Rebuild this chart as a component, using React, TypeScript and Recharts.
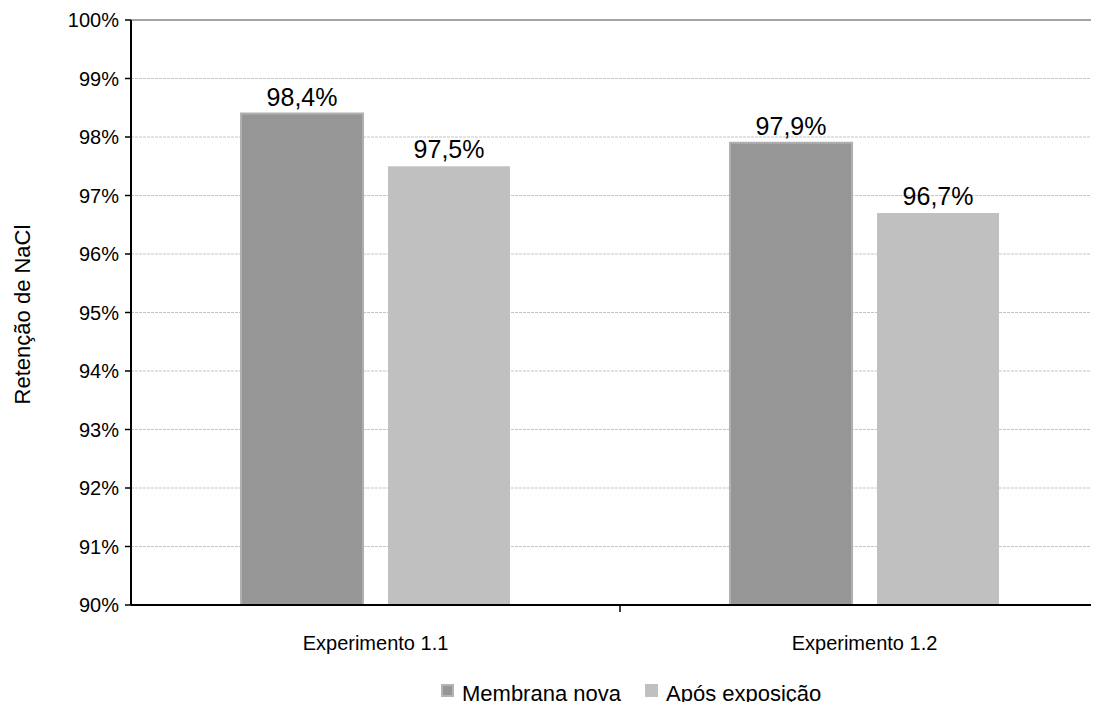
import React from 'react';
import { BarChart, Bar, XAxis, YAxis, CartesianGrid, Legend, LabelList, ReferenceLine } from 'recharts';

const categories = ['Experimento 1.1', 'Experimento 1.2'];
const membranaNova = [98.4, 97.9];
const aposExposicao = [97.5, 96.7];
const yTicks = [90, 91, 92, 93, 94, 95, 96, 97, 98, 99, 100];
const seriesNames = ['Membrana nova', 'Após exposição'];
const yTitle = 'Retenção de NaCl';

const data = categories.map((c, i) => ({ name: c, nova: membranaNova[i], apos: aposExposicao[i] }));

const FONT = '"Liberation Sans", Arial, sans-serif';
const fmt = (v: number) => v.toFixed(1).replace('.', ',') + '%';

const XTick = (props: any) => {
  const { x, y, payload } = props;
  const off = payload && typeof payload.offset === 'number' ? payload.offset : 0;
  return (
    <g>
      {off > 0 && payload.index < categories.length - 1 ? (
        <line x1={x + off} x2={x + off} y1={y} y2={y + 7} stroke="#000" strokeWidth={1.5} />
      ) : null}
      <text x={x} y={y + 45} textAnchor="middle" fontSize={20} fontFamily={FONT} fill="#000">
        {payload.value}
      </text>
    </g>
  );
};

const YTitle = (props: any) => {
  const vb = props.viewBox || { x: 0, y: 20, width: 131, height: 585 };
  const cx = vb.x + 30;
  const cy = vb.y + vb.height / 2 + 2;
  return (
    <text x={cx} y={cy} transform={`rotate(-90 ${cx} ${cy})`} textAnchor="middle" fontSize={22} fontFamily={FONT} fill="#000">
      {yTitle}
    </text>
  );
};

const LegendContent = () => {
  const items = [
    { label: seriesNames[0], fill: '#969696', stroke: '#b4b4b4' },
    { label: seriesNames[1], fill: '#c0c0c0', stroke: '#c0c0c0' },
  ];
  return (
    <div style={{ height: 45, position: 'relative', fontFamily: FONT, fontSize: 22, color: '#000', lineHeight: '25px' }}>
      <div style={{ position: 'absolute', left: 441, top: 16, display: 'flex', alignItems: 'center', whiteSpace: 'nowrap' }}>
        {items.map((it, i) => (
          <div key={i} style={{ display: 'flex', alignItems: 'center', marginRight: 24 }}>
            <span style={{ display: 'inline-block', boxSizing: 'border-box', width: 13, height: 13, background: it.fill, border: `2px solid ${it.stroke}`, marginRight: 8, marginTop: -6 }} />
            <span>{it.label}</span>
          </div>
        ))}
      </div>
    </div>
  );
};

export default function App() {
  return (
    <div style={{ margin: -8, width: 1110, height: 710, overflow: 'hidden', background: '#fff' }}>
      <BarChart
        width={1109}
        height={710}
        data={data}
        margin={{ top: 20, right: 0, left: 0, bottom: 0 }}
        barCategoryGap="22.5%"
        barGap={25}
      >
        <CartesianGrid vertical={false} stroke="#c4c4c4" strokeDasharray="3 1" />
        <ReferenceLine y={100} stroke="#8c8c8c" strokeWidth={1.5} />
        <XAxis
          dataKey="name"
          height={60}
          tickLine={false}
          tickSize={0}
          tickMargin={0}
          axisLine={{ stroke: '#000', strokeWidth: 2 }}
          tick={<XTick />}
          interval={0}
        />
        <YAxis
          width={131}
          domain={[90, 100]}
          ticks={yTicks}
          allowDataOverflow
          tickFormatter={(v: number) => v + '%'}
          tick={{ fontSize: 20, fontFamily: FONT, fill: '#000' }}
          tickLine={{ stroke: '#000', strokeWidth: 1.5 }}
          tickSize={6}
          tickMargin={6}
          axisLine={{ stroke: '#000', strokeWidth: 2 }}
          label={<YTitle />}
        />
        <Legend verticalAlign="bottom" content={<LegendContent />} />
        <Bar dataKey="nova" name={seriesNames[0]} fill="#969696" stroke="#b0b0b0" strokeWidth={2} isAnimationActive={false}>
          <LabelList dataKey="nova" position="top" offset={8} formatter={(v: any) => fmt(Number(v))} style={{ fontSize: 25, fontFamily: FONT, fill: '#000' }} />
        </Bar>
        <Bar dataKey="apos" name={seriesNames[1]} fill="#c0c0c0" isAnimationActive={false}>
          <LabelList dataKey="apos" position="top" offset={8} formatter={(v: any) => fmt(Number(v))} style={{ fontSize: 25, fontFamily: FONT, fill: '#000' }} />
        </Bar>
      </BarChart>
    </div>
  );
}
